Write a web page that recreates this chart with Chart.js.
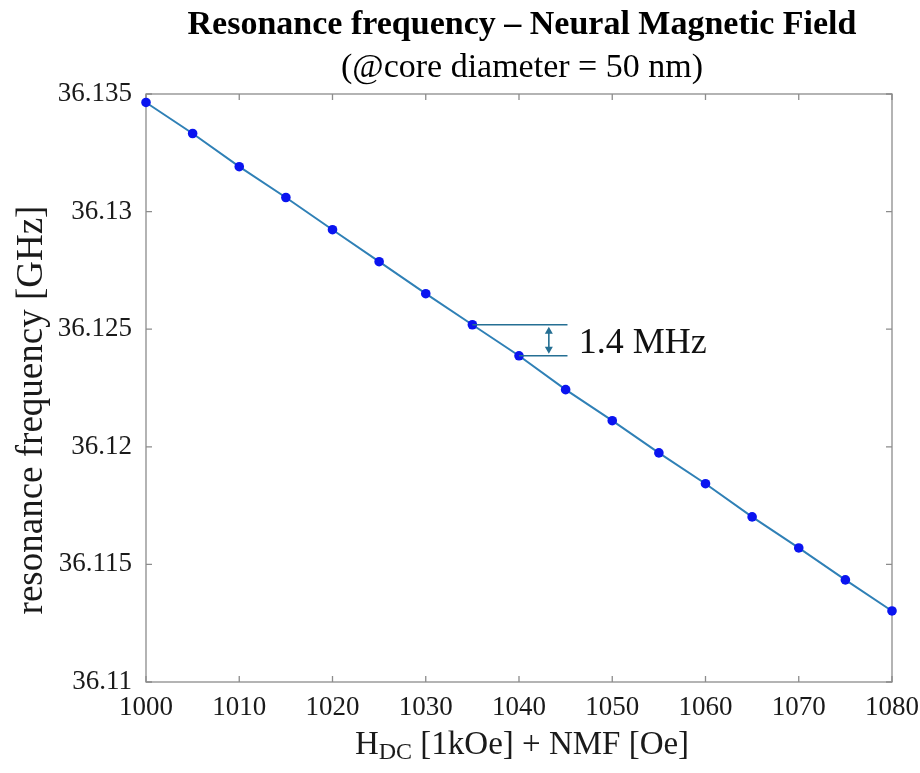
<!DOCTYPE html>
<html>
<head>
<meta charset="utf-8">
<script src="https://cdn.jsdelivr.net/npm/chart.js@4.4.1/dist/chart.umd.min.js"></script>
<style>
  html, body { margin: 0; padding: 0; background: #ffffff; }
  #wrap { width: 920px; height: 773px; }
</style>
</head>
<body>
<div id="wrap"><canvas id="c" width="920" height="773"></canvas></div>
<script>
// ---- data ----
const fieldValues = [1000, 1005, 1010, 1015, 1020, 1025, 1030, 1035, 1040, 1045, 1050, 1055, 1060, 1065, 1070, 1075, 1080];
const freqValues = [36.13464, 36.13332, 36.13191, 36.13060, 36.12923, 36.12787, 36.12651, 36.12519, 36.12387,
                    36.12243, 36.12111, 36.11974, 36.11843, 36.11702, 36.11570, 36.11434, 36.11302];
const xTickValues = [1000, 1010, 1020, 1030, 1040, 1050, 1060, 1070, 1080];
const xTickLabels = ['1000', '1010', '1020', '1030', '1040', '1050', '1060', '1070', '1080'];
const yTickValues = [36.11, 36.115, 36.12, 36.125, 36.13, 36.135];
const yTickLabels = ['36.11', '36.115', '36.12', '36.125', '36.13', '36.135'];
const titleText = 'Resonance frequency \u2013 Neural Magnetic Field';
const subtitleText = '(@core diameter = 50 nm)';
const yTitleText = 'resonance frequency [GHz]';
const annotationText = '1.4 MHz';

const SERIF = '"Liberation Serif", "Times New Roman", serif';
const points = fieldValues.map((x, i) => ({ x: x, y: freqValues[i] }));

const matlabAxes = {
  id: 'matlabAxes',
  beforeDatasetsDraw(chart) {
    const ctx = chart.ctx;
    const a = chart.chartArea;
    const xs = chart.scales.x, ys = chart.scales.y;
    ctx.save();
    ctx.strokeStyle = '#8c8c8c';
    ctx.lineWidth = 1.3;
    ctx.strokeRect(a.left, a.top, a.right - a.left, a.bottom - a.top);
    const tl = 6;
    ctx.beginPath();
    xs.ticks.forEach(t => {
      const px = xs.getPixelForValue(t.value);
      ctx.moveTo(px, a.bottom); ctx.lineTo(px, a.bottom - tl);
      ctx.moveTo(px, a.top); ctx.lineTo(px, a.top + tl);
    });
    ys.ticks.forEach(t => {
      const py = ys.getPixelForValue(t.value);
      ctx.moveTo(a.left, py); ctx.lineTo(a.left + tl, py);
      ctx.moveTo(a.right, py); ctx.lineTo(a.right - tl, py);
    });
    ctx.stroke();
    ctx.restore();
  },
  afterDatasetsDraw(chart) {
    // 1.4 MHz step annotation between the 1035 and 1040 points
    const ctx = chart.ctx;
    const xs = chart.scales.x, ys = chart.scales.y;
    const i1 = fieldValues.indexOf(1035), i2 = fieldValues.indexOf(1040);
    const y1 = ys.getPixelForValue(freqValues[i1]);
    const y2 = ys.getPixelForValue(freqValues[i2]);
    const x1 = xs.getPixelForValue(fieldValues[i1]);
    const x2 = xs.getPixelForValue(fieldValues[i2]);
    const xEnd = xs.getPixelForValue(1045.2);
    const xArr = xs.getPixelForValue(1043.2);
    ctx.save();
    ctx.strokeStyle = '#256f93';
    ctx.fillStyle = '#256f93';
    ctx.lineWidth = 1.6;
    ctx.beginPath();
    ctx.moveTo(x1, y1); ctx.lineTo(xEnd, y1);
    ctx.moveTo(x2, y2); ctx.lineTo(xEnd, y2);
    ctx.moveTo(xArr, y1 + 5); ctx.lineTo(xArr, y2 - 5);
    ctx.stroke();
    const h = 7, w = 4;
    ctx.beginPath();
    ctx.moveTo(xArr, y1 + 2); ctx.lineTo(xArr - w, y1 + 2 + h); ctx.lineTo(xArr + w, y1 + 2 + h); ctx.closePath();
    ctx.moveTo(xArr, y2 - 2); ctx.lineTo(xArr - w, y2 - 2 - h); ctx.lineTo(xArr + w, y2 - 2 - h); ctx.closePath();
    ctx.fill();
    ctx.fillStyle = '#111111';
    ctx.font = '36px ' + SERIF;
    ctx.textAlign = 'left';
    ctx.textBaseline = 'alphabetic';
    ctx.fillText(annotationText, xs.getPixelForValue(1046.4), (y1 + y2) / 2 + 13);
    ctx.restore();
  },
  afterDraw(chart) {
    const ctx = chart.ctx;
    const a = chart.chartArea;
    const cx = (a.left + a.right) / 2 + 3;
    ctx.save();
    ctx.fillStyle = '#000000';
    ctx.textAlign = 'center';
    ctx.textBaseline = 'alphabetic';
    ctx.font = 'bold 34px ' + SERIF;
    ctx.fillText(titleText, cx, 34);
    ctx.font = '34px ' + SERIF;
    ctx.fillText(subtitleText, cx, 77);

    // y axis title
    ctx.save();
    ctx.fillStyle = '#1a1a1a';
    ctx.translate(42, 410);
    ctx.rotate(-Math.PI / 2);
    ctx.font = '37px ' + SERIF;
    ctx.textAlign = 'center';
    ctx.fillText(yTitleText, 0, 0);
    ctx.restore();

    // x axis title with subscript
    ctx.fillStyle = '#1a1a1a';
    const mainFont = '33px ' + SERIF, subFont = '24px ' + SERIF;
    const p1 = 'H', p2 = 'DC', p3 = ' [1kOe] + NMF [Oe]';
    ctx.font = mainFont; const w1 = ctx.measureText(p1).width, w3 = ctx.measureText(p3).width;
    ctx.font = subFont; const w2 = ctx.measureText(p2).width;
    let x = cx - (w1 + w2 + w3) / 2;
    const base = 754;
    ctx.textAlign = 'left';
    ctx.font = mainFont; ctx.fillText(p1, x, base); x += w1;
    ctx.font = subFont; ctx.fillText(p2, x, base + 5); x += w2;
    ctx.font = mainFont; ctx.fillText(p3, x, base);
    ctx.restore();
  }
};

new Chart(document.getElementById('c'), {
  type: 'line',
  data: {
    datasets: [{
      data: points,
      borderColor: '#2f80b6',
      borderWidth: 2,
      pointRadius: 4.8,
      pointHoverRadius: 4.8,
      pointBackgroundColor: '#0a14f0',
      pointBorderColor: '#0a14f0',
      pointBorderWidth: 0,
      tension: 0,
      fill: false,
      clip: false
    }]
  },
  options: {
    responsive: false,
    animation: false,
    events: [],
    layout: { padding: { top: 94, right: 28, bottom: 0, left: 0 } },
    plugins: { legend: { display: false }, tooltip: { enabled: false }, title: { display: false } },
    scales: {
      x: {
        type: 'linear',
        min: 1000, max: 1080,
        afterBuildTicks: s => { s.ticks = xTickValues.map(v => ({ value: v })); },
        afterFit: s => { s.height = 91; s.paddingLeft = 0; s.paddingRight = 0; },
        grid: { display: false, drawTicks: false },
        border: { display: false },
        ticks: {
          padding: 10,
          color: '#1a1a1a',
          font: { family: SERIF, size: 27 },
          maxRotation: 0,
          autoSkip: false,
          callback: (v, i) => xTickLabels[i]
        }
      },
      y: {
        type: 'linear',
        min: 36.11, max: 36.135,
        afterBuildTicks: s => { s.ticks = yTickValues.map(v => ({ value: v })); },
        afterFit: s => { s.width = 146; s.paddingTop = 0; s.paddingBottom = 0; },
        grid: { display: false, drawTicks: false },
        border: { display: false },
        ticks: {
          padding: 14,
          color: '#1a1a1a',
          font: { family: SERIF, size: 27 },
          autoSkip: false,
          callback: (v, i) => yTickLabels[i]
        }
      }
    }
  },
  plugins: [matlabAxes]
});
</script>
</body>
</html>
